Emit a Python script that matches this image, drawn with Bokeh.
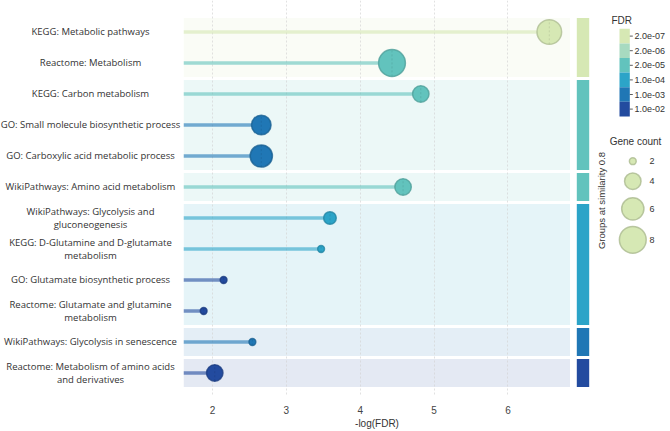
import numpy as np
from bokeh.plotting import figure
from bokeh.layouts import row
from bokeh.models import Range1d, FixedTicker, ColumnDataSource
from bokeh.core.properties import value
from bokeh.embed import file_html
from bokeh.resources import INLINE

# ---------------- data ----------------
terms = [
    "KEGG: Metabolic pathways",
    "Reactome: Metabolism",
    "KEGG: Carbon metabolism",
    "GO: Small molecule biosynthetic process",
    "GO: Carboxylic acid metabolic process",
    "WikiPathways: Amino acid metabolism",
    "WikiPathways: Glycolysis and\ngluconeogenesis",
    "KEGG: D-Glutamine and D-glutamate\nmetabolism",
    "GO: Glutamate biosynthetic process",
    "Reactome: Glutamate and glutamine\nmetabolism",
    "WikiPathways: Glycolysis in senescence",
    "Reactome: Metabolism of amino acids\nand derivatives",
]
neg_log_fdr = [6.56, 4.43, 4.82, 2.66, 2.66, 4.58, 3.59, 3.47, 2.15, 1.88, 2.54, 2.03]
gene_count = [7, 8, 4, 5, 6, 4, 3, 2, 2, 2, 2, 4]
group_id = [1, 1, 2, 2, 2, 3, 4, 4, 4, 4, 5, 6]

fdr_legend_labels = ["2.0e-07", "2.0e-06", "2.0e-05", "1.0e-04", "1.0e-03", "1.0e-02"]
fdr_legend_colors = ["#d6e8b4", "#a7dac0", "#62c3bd", "#2ca4c8", "#2077b5", "#234b9f"]
gene_count_legend = [2, 4, 6, 8]
x_ticks = [2, 3, 4, 5, 6]

# ---------------- scales ----------------
X_MIN, X_MAX = 1.607, 6.847
stop_pos = np.array([-np.log10(float(s)) for s in fdr_legend_labels])  # descending
BIN_SPLIT = 0.4  # bin edge placed 40% of the way up from the lower step


def hex2rgb(h):
    return np.array([int(h[i:i + 2], 16) for i in (1, 3, 5)], dtype=float)


def rgb2hex(c):
    c = np.clip(np.round(c), 0, 255).astype(int)
    return "#%02x%02x%02x" % tuple(c)


def fdr_color(v):
    # stepped colour scale: pick the legend step whose bin contains v
    for i in range(len(stop_pos) - 1):
        hi, lo = stop_pos[i], stop_pos[i + 1]
        edge = lo + BIN_SPLIT * (hi - lo)
        if v >= edge:
            return fdr_legend_colors[i]
    return fdr_legend_colors[-1]


def darker(h, f=0.82):
    return rgb2hex(hex2rgb(h) * f)


D_MIN, D_MAX = 6.8, 26.8
C_MIN, C_MAX = 2, 8


def size_of(c):
    return float(np.sqrt(D_MIN ** 2 + (D_MAX ** 2 - D_MIN ** 2) * (c - C_MIN) / (C_MAX - C_MIN)))


n = len(terms)
idx = list(range(n))
colors = [fdr_color(v) for v in neg_log_fdr]
src = ColumnDataSource(dict(
    y=idx, x=neg_log_fdr, x0=[X_MIN] * n, term=terms,
    color=colors, stroke=[darker(c) for c in colors],
    size=[size_of(c) for c in gene_count],
))

# groups
groups = sorted(set(group_id))
INSET = 0.05
g_top, g_bot, g_col = [], [], []
for g in groups:
    members = [i for i in idx if group_id[i] == g]
    g_top.append(min(members) - 0.5 + INSET)
    g_bot.append(max(members) + 0.5 - INSET)
    g_col.append(fdr_color(max(neg_log_fdr[i] for i in members)))
gsrc = ColumnDataSource(dict(top=g_top, bottom=g_bot, color=g_col))

FRAME_H = 395
yr = Range1d(n - 1 + 0.726, -1.016)

common = dict(toolbar_location=None, output_backend="svg", min_border_left=0,
              min_border_right=0, min_border_top=0, min_border_bottom=36,
              outline_line_color=None, background_fill_color="white",
              border_fill_color="white")

# ---------------- left labels ----------------
left = figure(x_range=Range1d(0, 183), y_range=yr, frame_width=183, frame_height=FRAME_H,
              x_axis_location=None, y_axis_location=None, **common)
left.grid.visible = False
left.text(x=90, y="y", text="term", source=src, text_align="center", text_baseline="middle",
          text_font=value("Open Sans"), text_font_size="9.5px", text_color="#333333",
          text_line_height=1.0)

# ---------------- main plot ----------------
main = figure(x_range=Range1d(X_MIN, X_MAX), y_range=yr, frame_width=387, frame_height=FRAME_H,
              y_axis_location=None, **common)
main.min_border_bottom = 0
bands = main.quad(left=X_MIN, right=X_MAX, top="top", bottom="bottom", source=gsrc,
                  fill_color="color", fill_alpha=0.12, line_color=None)
bands.level = "image"
main.ygrid.visible = False
main.xgrid.ticker = FixedTicker(ticks=x_ticks)
main.xgrid.grid_line_color = "#d4d4d4"
main.xgrid.grid_line_dash = "2 2"
main.xgrid.grid_line_width = 0.7

main.segment(x0="x0", y0="y", x1="x", y1="y", source=src, line_color="color",
             line_alpha=0.6, line_width=3.5)
main.scatter(x="x", y="y", size="size", source=src, fill_color="color",
             line_color="stroke", line_width=1.5, line_alpha=0.8)
main.scatter(x="x", y="y", size="size", source=src, marker="dash", angle=np.pi / 2,
             line_color="stroke", line_width=0.7, line_dash="2 2", line_alpha=0.7)

ax = main.xaxis[0]
ax.ticker = FixedTicker(ticks=x_ticks)
ax.axis_line_color = None
ax.major_tick_line_color = None
ax.minor_tick_line_color = None
ax.major_tick_out = 0
ax.major_tick_in = 0
ax.minor_tick_out = 0
ax.major_label_standoff = 10
ax.major_label_text_font = "Liberation Sans"
ax.major_label_text_font_size = "10px"
ax.major_label_text_color = "#444444"
ax.axis_label = "-log(FDR)"
ax.axis_label_standoff = 1
ax.axis_label_text_font = "Liberation Sans"
ax.axis_label_text_font_size = "10px"
ax.axis_label_text_font_style = "normal"
ax.axis_label_text_color = "#333333"

# ---------------- right panel ----------------
right = figure(x_range=Range1d(0, 100), y_range=yr, frame_width=100, frame_height=FRAME_H,
               x_axis_location=None, y_axis_location=None, **common)
right.grid.visible = False
right.extra_y_ranges = {"px": Range1d(FRAME_H, 0)}

right.quad(left=6.3, right=18.7, top="top", bottom="bottom", source=gsrc,
           fill_color="color", line_color=None)
right.text(x=[30.5], y=[200], text=["Groups at similarity 0.8"], y_range_name="px",
           angle=np.pi / 2, text_align="center", text_baseline="middle",
           text_font=value("Liberation Sans"), text_font_size="9.5px", text_color="#333333")

# FDR legend
BLK_TOP, BLK_H = 28.3, 14.6
k = len(fdr_legend_labels)
blk_top = [BLK_TOP + i * BLK_H for i in range(k)]
blk_bot = [t + BLK_H for t in blk_top]
blk_mid = [t + BLK_H / 2 for t in blk_top]
right.quad(left=49, right=59.3, top=blk_top, bottom=blk_bot, fill_color=fdr_legend_colors,
           line_color=None, y_range_name="px")
right.segment(x0=59.3, x1=62.3, y0=blk_mid, y1=blk_mid, line_color="#333333", line_width=0.8,
              y_range_name="px")
right.text(x=64, y=blk_mid, text=fdr_legend_labels, y_range_name="px", text_baseline="middle",
           text_font=value("Liberation Sans"), text_font_size="9px", text_color="#333333")
right.text(x=[41], y=[20], text=["FDR"], y_range_name="px", text_baseline="middle",
           text_font=value("Liberation Sans"), text_font_size="10px", text_color="#333333")

# Gene count legend
gc_y = [160.7, 180.7, 208.3, 239.3]
right.text(x=[65], y=[141], text=["Gene count"], y_range_name="px", text_align="center",
           text_baseline="middle", text_font=value("Liberation Sans"), text_font_size="10px",
           text_color="#333333")
right.scatter(x=62.3, y=gc_y, size=[size_of(c) for c in gene_count_legend], y_range_name="px",
              fill_color=fdr_legend_colors[0], line_color=darker(fdr_legend_colors[0], 0.8),
              line_width=1.5, line_alpha=0.8)
right.text(x=79, y=gc_y, text=[str(c) for c in gene_count_legend], y_range_name="px",
           text_baseline="middle", text_font=value("Liberation Sans"), text_font_size="9px",
           text_color="#333333")

layout = row(left, main, right, spacing=0)
open("out.html", "w").write(file_html(layout, INLINE))
